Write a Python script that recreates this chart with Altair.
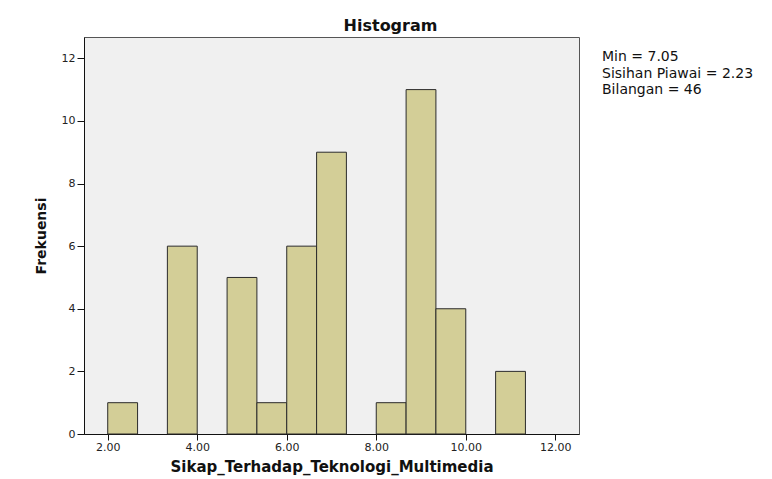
import altair as alt
import pandas as pd

# Histogram bins (bin width = 2/3) and counts
bin_lo = [2.000, 3.333, 4.667, 5.333, 6.000, 6.667, 8.000, 8.667, 9.333, 10.667]
bin_hi = [2.667, 4.000, 5.333, 6.000, 6.667, 7.333, 8.667, 9.333, 10.000, 11.333]
counts = [1, 6, 5, 1, 6, 9, 1, 11, 4, 2]

x_ticks = [2, 4, 6, 8, 10, 12]
y_ticks = [0, 2, 4, 6, 8, 10, 12]

stat_names = ["Min", "Sisihan Piawai", "Bilangan"]
stat_values = ["7.05", "2.23", "46"]

df = pd.DataFrame({"lo": bin_lo, "hi": bin_hi, "count": counts})

W, H = 495, 397
FONT = "DejaVu Sans"

x_scale = alt.Scale(domain=[1.47, 12.53], nice=False, zero=False)
y_scale = alt.Scale(domain=[0, 12.68], nice=False)

bars = alt.Chart(df).mark_bar(
    fill="#D3CE97", stroke="#2b2b2b", strokeWidth=1, opacity=1
).encode(
    x=alt.X("lo:Q", scale=x_scale,
            axis=alt.Axis(values=x_ticks, format=".2f",
                          title="Sikap_Terhadap_Teknologi_Multimedia",
                          titleFont=FONT, titleFontSize=15, titleFontWeight="bold",
                          titleColor="#111", titlePadding=7,
                          labelFont=FONT, labelFontSize=11, labelColor="#222",
                          labelPadding=1, tickSize=6, tickColor="#111",
                          domainColor="#111", grid=False)),
    x2="hi:Q",
    y=alt.Y("count:Q", scale=y_scale,
            axis=alt.Axis(values=y_ticks, format="d", title="Frekuensi",
                          titleFont=FONT, titleFontSize=14, titleFontWeight="bold",
                          titleColor="#111", titlePadding=13,
                          labelFont=FONT, labelFontSize=11, labelColor="#222",
                          labelPadding=2, tickSize=7, tickColor="#111",
                          domainColor="#111", grid=False)),
    y2=alt.datum(0),
)

note_text = "\n".join(f"{n} = {v}" for n, v in zip(stat_names, stat_values))
note = alt.Chart(df).mark_text(
    align="left", baseline="top", font=FONT, fontSize=14, lineHeight=16.5,
    color="#111", lineBreak="\n"
).encode(
    x=alt.value(518), y=alt.value(13), text=alt.value(note_text)
).transform_filter("datum.count == 1 && datum.lo < 3")

chart = alt.layer(bars, note).properties(
    width=W, height=H,
    title=alt.TitleParams("Histogram", font=FONT, fontSize=16, fontWeight="bold",
                          color="#111", anchor="middle", dx=59, offset=3),
    padding={"left": 76, "top": 29, "right": 185, "bottom": 44},
    autosize=alt.AutoSizeParams(type="none"),
    background="white",
).configure_view(
    fill="#F0F0F0", stroke="#555555", strokeWidth=1
)

chart.save("out.html", embed_options={"renderer": "svg", "actions": False})
